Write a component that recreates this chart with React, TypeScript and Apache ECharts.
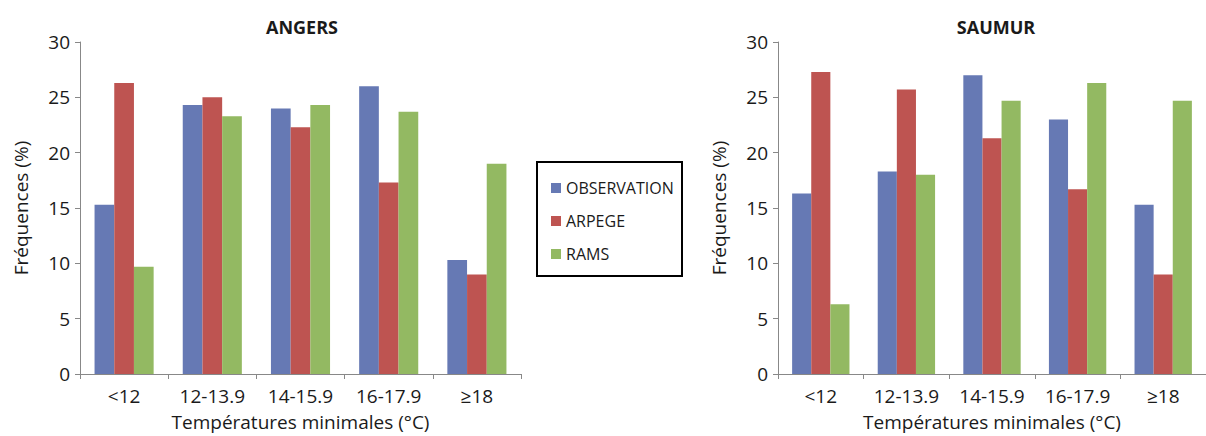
import React, { useEffect, useRef } from "react";
import * as echarts from "echarts";

const categories = ["<12", "12-13.9", "14-15.9", "16-17.9", "≥18"];
const seriesNames = ["OBSERVATION", "ARPEGE", "RAMS"];
const angersObservation = [15.3, 24.3, 24.0, 26.0, 10.3];
const angersArpege = [26.3, 25.0, 22.3, 17.3, 9.0];
const angersRams = [9.7, 23.3, 24.3, 23.7, 19.0];
const saumurObservation = [16.3, 18.3, 27.0, 23.0, 15.3];
const saumurArpege = [27.3, 25.7, 21.3, 16.7, 9.0];
const saumurRams = [6.3, 18.0, 24.7, 26.3, 24.7];
const titles = ["ANGERS", "SAUMUR"];
const yAxisTitle = "Fréquences (%)";
const xAxisTitle = "Températures minimales (°C)";

const colors = ["#6679B4", "#BE5451", "#93B962"];
const FONT = '"Open Sans", sans-serif';
const TEXT = "#1a1a1a";
const AXIS = "#888888";

export default function App() {
  const ref = useRef<HTMLDivElement>(null);
  useEffect(() => {
    if (!ref.current) return;
    const chart = echarts.init(ref.current, null, { renderer: "svg" });
    const grids = [
      { left: 80, top: 42, width: 441, height: 333 },
      { left: 778, top: 42, width: 441, height: 333 },
    ];
    const xAxes = grids.map((_, i) => ({
      type: "category",
      gridIndex: i,
      data: categories,
      name: xAxisTitle,
      nameLocation: "middle",
      nameGap: 38,
      nameTextStyle: { fontFamily: FONT, fontSize: 19, color: TEXT },
      axisLine: { lineStyle: { color: AXIS, width: 1 } },
      axisTick: { show: true, length: 5, lineStyle: { color: AXIS } },
      axisLabel: { fontFamily: FONT, fontSize: 19, color: TEXT, margin: 12, interval: 0 },
      splitLine: { show: false },
    }));
    const yAxes = grids.map((_, i) => ({
      type: "value",
      gridIndex: i,
      min: 0,
      max: 30,
      interval: 5,
      name: yAxisTitle,
      nameLocation: "middle",
      nameGap: 50,
      nameTextStyle: { fontFamily: FONT, fontSize: 19, color: TEXT },
      axisLine: { show: true, lineStyle: { color: AXIS, width: 1 } },
      axisTick: { show: true, length: 5, lineStyle: { color: AXIS } },
      axisLabel: { fontFamily: FONT, fontSize: 19, color: TEXT, margin: 10 },
      splitLine: { show: false },
    }));
    const data = [
      [angersObservation, angersArpege, angersRams],
      [saumurObservation, saumurArpege, saumurRams],
    ];
    const series: any[] = [];
    data.forEach((group, g) => {
      group.forEach((vals, s) => {
        series.push({
          type: "bar",
          name: seriesNames[s],
          xAxisIndex: g,
          yAxisIndex: g,
          data: vals,
          barGap: "0%",
          barCategoryGap: "33%",
          itemStyle: { color: colors[s] },
        });
      });
    });
    chart.setOption({
      animation: false,
      color: colors,
      grid: grids,
      xAxis: xAxes,
      yAxis: yAxes,
      series,
      legend: {
        data: seriesNames,
        orient: "vertical",
        left: 551,
        top: 178,
        padding: 0,
        itemWidth: 10,
        itemHeight: 10,
        itemGap: 13,
        icon: "rect",
        textStyle: { fontFamily: FONT, fontSize: 16, color: TEXT, lineHeight: 20, padding: [0, 0, 0, 0] },
        selectedMode: false,
      },
      graphic: [
        {
          type: "rect",
          shape: { x: 537, y: 162, width: 145, height: 114 },
          style: { fill: "none", stroke: "#000", lineWidth: 2 },
          z: 10,
        },
        {
          type: "text",
          x: 302,
          y: 27,
          style: {
            text: titles[0],
            textAlign: "center",
            textVerticalAlign: "middle",
            font: `bold 18px ${FONT}`,
            fill: TEXT,
          },
        },
        {
          type: "text",
          x: 996,
          y: 27,
          style: {
            text: titles[1],
            textAlign: "center",
            textVerticalAlign: "middle",
            font: `bold 18px ${FONT}`,
            fill: TEXT,
          },
        },
      ],
    });
    return () => chart.dispose();
  }, []);
  return (
    <div
      ref={ref}
      style={{ position: "fixed", left: 0, top: 0, width: 1206, height: 436, background: "#fff" }}
    />
  );
}
